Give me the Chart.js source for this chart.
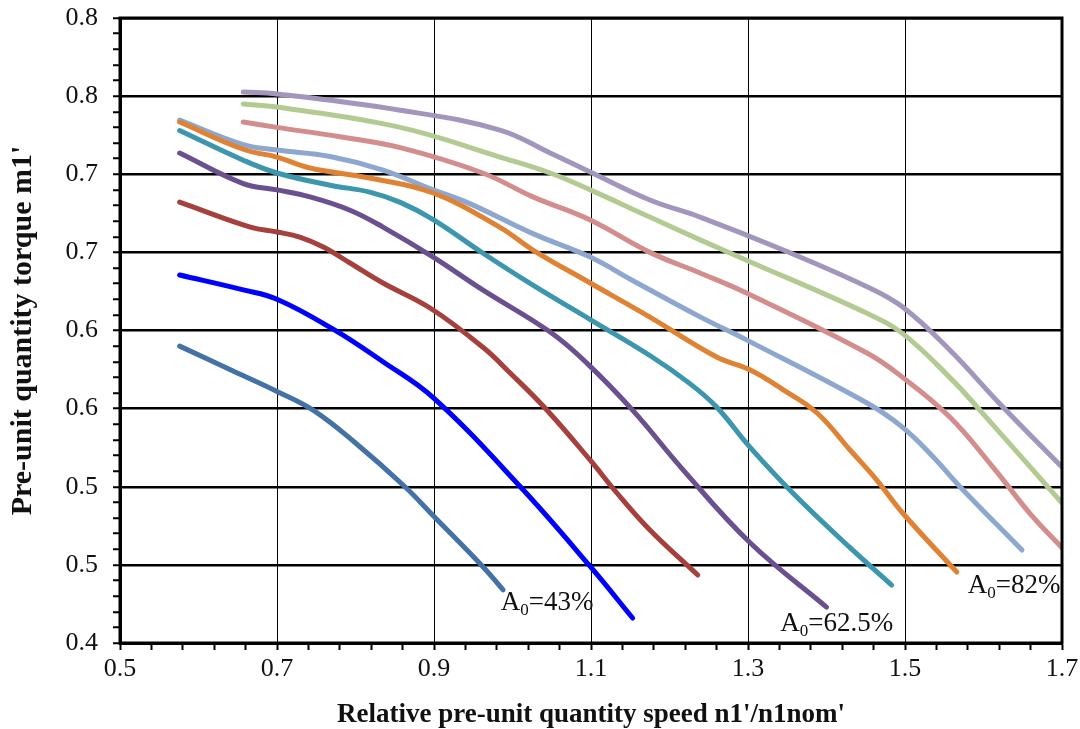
<!DOCTYPE html>
<html>
<head>
<meta charset="utf-8">
<title>Pre-unit quantity torque</title>
<script src="https://cdn.jsdelivr.net/npm/chart.js@4.4.1/dist/chart.umd.min.js"></script>
<style>
    html, body { margin: 0; padding: 0; background: #ffffff; }
    canvas { display: block; }
</style>
</head>
<body>
<canvas id="chart" width="1080" height="729"></canvas>
<script>
// values, one pair of arrays per curve
var curve1Speed = [0.576, 0.64, 0.70, 0.746, 0.80, 0.863, 0.90, 0.962, 0.988];
var curve1Torque = [0.590, 0.575, 0.561, 0.549, 0.528, 0.500, 0.481, 0.449, 0.434];

var curve2Speed = [0.576, 0.657, 0.70, 0.771, 0.835, 0.899, 1.01, 1.099, 1.153];
var curve2Torque = [0.6355, 0.626, 0.620, 0.601, 0.580, 0.557, 0.500, 0.449, 0.416];

var curve3Speed = [0.576, 0.666, 0.70, 0.729, 0.759, 0.793, 0.835, 0.895, 0.962, 0.997, 1.044, 1.099, 1.133, 1.175, 1.236];
var curve3Torque = [0.6822, 0.6662, 0.663, 0.6598, 0.6534, 0.6432, 0.6304, 0.6144, 0.5894, 0.5728, 0.549, 0.517, 0.496, 0.4723, 0.4435];

var curve4Speed = [0.576, 0.657, 0.70, 0.742, 0.793, 0.835, 0.899, 0.962, 1.048, 1.095, 1.153, 1.217, 1.303, 1.40];
var curve4Torque = [0.7136, 0.694, 0.690, 0.6855, 0.677, 0.6662, 0.647, 0.626, 0.599, 0.579, 0.549, 0.511, 0.464, 0.423];

var curve5Speed = [0.576, 0.657, 0.70, 0.7675, 0.818, 0.857, 0.899, 0.962, 1.026, 1.099, 1.175, 1.226, 1.26, 1.303, 1.357, 1.43, 1.483];
var curve5Torque = [0.728, 0.709, 0.7008, 0.693, 0.6886, 0.682, 0.671, 0.6496, 0.629, 0.607, 0.584, 0.566, 0.551, 0.525, 0.496, 0.461, 0.437];

var curve6Speed = [0.576, 0.657, 0.70, 0.742, 0.818, 0.899, 0.984, 1.026, 1.099, 1.175, 1.26, 1.303, 1.345, 1.388, 1.43, 1.464, 1.497, 1.566];
var curve6Torque = [0.7334, 0.716, 0.711, 0.704, 0.6976, 0.688, 0.666, 0.6515, 0.6304, 0.6086, 0.583, 0.5747, 0.562, 0.5472, 0.5235, 0.5043, 0.4832, 0.4454];

var curve7Speed = [0.576, 0.657, 0.70, 0.7675, 0.835, 0.899, 0.942, 1.026, 1.099, 1.153, 1.239, 1.298, 1.4516, 1.497, 1.536, 1.57, 1.649];
var curve7Torque = [0.7347, 0.719, 0.7155, 0.7114, 0.7027, 0.690, 0.682, 0.662, 0.647, 0.632, 0.6087, 0.594, 0.5536, 0.538, 0.519, 0.500, 0.4595];

var curve8Speed = [0.657, 0.70, 0.78, 0.857, 0.962, 1.026, 1.099, 1.175, 1.239, 1.298, 1.4516, 1.497, 1.557, 1.612, 1.659, 1.70];
var curve8Torque = [0.7334, 0.730, 0.724, 0.717, 0.7008, 0.6855, 0.6707, 0.650, 0.6368, 0.624, 0.5856, 0.570, 0.5446, 0.5126, 0.483, 0.461];

var curve9Speed = [0.657, 0.70, 0.857, 0.984, 1.048, 1.099, 1.175, 1.239, 1.298, 1.4516, 1.497, 1.557, 1.599, 1.70];
var curve9Torque = [0.745, 0.743, 0.730, 0.711, 0.7008, 0.690, 0.6726, 0.658, 0.645, 0.611, 0.598, 0.570, 0.547, 0.4896];

var curve10Speed = [0.657, 0.70, 0.857, 0.984, 1.048, 1.099, 1.175, 1.239, 1.345, 1.4516, 1.497, 1.557, 1.621, 1.70];
var curve10Torque = [0.7526, 0.7514, 0.741, 0.7283, 0.7136, 0.7014, 0.6835, 0.6726, 0.6515, 0.628, 0.615, 0.5875, 0.553, 0.5126];

// tick labels as printed on the original (rounded to one decimal)
var xTickLabels = ['0.5', '0.7', '0.9', '1.1', '1.3', '1.5', '1.7'];
var yTickLabels = ['0.4', '0.5', '0.5', '0.6', '0.6', '0.7', '0.7', '0.8', '0.8'];

// the A0 notes next to three of the curves
var noteValues = ['43%', '62.5%', '82%'];
var noteSpeed = [0.985, 1.341, 1.580];
var noteTorque = [0.421, 0.408, 0.432];

var curveColors = ['#4471a6', '#0000ff', '#a6403c', '#6b5090', '#3c97ae', '#e08233', '#8da7ce', '#d28d8c', '#b3cb92', '#a396bd'];
var curveSpeeds = [curve1Speed, curve2Speed, curve3Speed, curve4Speed, curve5Speed, curve6Speed, curve7Speed, curve8Speed, curve9Speed, curve10Speed];
var curveTorques = [curve1Torque, curve2Torque, curve3Torque, curve4Torque, curve5Torque, curve6Torque, curve7Torque, curve8Torque, curve9Torque, curve10Torque];

var fontFamily = '"Liberation Serif", "Times New Roman", serif';

function toPoints(speed, torque) {
    return speed.map(function (x, i) {
        return {x: x, y: torque[i]};
    });
}

var datasets = curveSpeeds.map(function (speed, i) {
    return {
        data: toPoints(speed, curveTorques[i]),
        borderColor: curveColors[i],
        borderWidth: 5,
        borderCapStyle: 'round',
        borderJoinStyle: 'round',
        tension: 0.4,
        pointRadius: 0,
        fill: false
    };
});

function isMajorX(value) {
    return Math.round((value - 0.5) / 0.04) % 5 === 0;
}

function isMajorY(value) {
    return Math.round((value - 0.4) / 0.01) % 5 === 0;
}

// frame on top and right, the scales only draw left and bottom
var framePlugin = {
    id: 'frame',
    afterDatasetsDraw: function (chart) {
        var area = chart.chartArea;
        var ctx = chart.ctx;
        ctx.save();
        ctx.strokeStyle = '#000000';
        ctx.lineWidth = 3;
        ctx.strokeRect(area.left, area.top, area.right - area.left, area.bottom - area.top);
        ctx.restore();
    }
};

// "A0=.." notes with a subscript zero
var notesPlugin = {
    id: 'notes',
    afterDatasetsDraw: function (chart) {
        var ctx = chart.ctx;
        var xScale = chart.scales.x;
        var yScale = chart.scales.y;
        ctx.save();
        ctx.fillStyle = '#111111';
        ctx.textBaseline = 'alphabetic';
        ctx.textAlign = 'left';
        noteValues.forEach(function (text, i) {
            var x = xScale.getPixelForValue(noteSpeed[i]);
            var y = yScale.getPixelForValue(noteTorque[i]);
            ctx.font = '27px ' + fontFamily;
            ctx.fillText('A', x, y);
            x += ctx.measureText('A').width;
            ctx.font = '17px ' + fontFamily;
            ctx.fillText('0', x, y + 5);
            x += ctx.measureText('0').width;
            ctx.font = '27px ' + fontFamily;
            ctx.fillText('=' + text, x, y);
        });
        ctx.restore();
    }
};

var chart = new Chart(document.getElementById('chart').getContext('2d'), {
    type: 'line',
    data: {datasets: datasets},
    plugins: [framePlugin, notesPlugin],
    options: {
        responsive: false,
        animation: false,
        devicePixelRatio: 1,
        layout: {
            padding: {top: 18, right: 18, left: 0, bottom: 0}
        },
        plugins: {
            legend: {display: false},
            tooltip: {enabled: false}
        },
        scales: {
            x: {
                type: 'linear',
                min: 0.5,
                max: 1.7,
                afterFit: function (scale) {
                    scale.height = 86;
                    scale.paddingLeft = 0;
                    scale.paddingRight = 0;
                },
                border: {display: true, color: '#000000', width: 3},
                grid: {
                    color: function (ctx) {
                        return ctx.tick && isMajorX(ctx.tick.value) ? '#000000' : 'rgba(0,0,0,0)';
                    },
                    lineWidth: 1,
                    tickColor: '#000000',
                    tickWidth: 2,
                    tickLength: 7
                },
                ticks: {
                    stepSize: 0.04,
                    autoSkip: false,
                    maxRotation: 0,
                    padding: 4,
                    color: '#111111',
                    font: {family: fontFamily, size: 26},
                    callback: function (value) {
                        var idx = Math.round((value - 0.5) / 0.04);
                        return idx % 5 === 0 ? xTickLabels[idx / 5] : '';
                    }
                },
                title: {
                    display: true,
                    text: "Relative pre-unit quantity speed n1'/n1nom'",
                    color: '#111111',
                    font: {family: fontFamily, size: 27, weight: 'bold', lineHeight: 1},
                    padding: {top: 0, bottom: 0}
                }
            },
            y: {
                type: 'linear',
                min: 0.4,
                max: 0.8,
                afterFit: function (scale) {
                    scale.width = 120;
                    scale.paddingTop = 0;
                    scale.paddingBottom = 0;
                },
                border: {display: true, color: '#000000', width: 3},
                grid: {
                    color: function (ctx) {
                        return ctx.tick && isMajorY(ctx.tick.value) ? '#000000' : 'rgba(0,0,0,0)';
                    },
                    lineWidth: 2.5,
                    tickColor: '#000000',
                    tickWidth: 2,
                    tickLength: 7
                },
                ticks: {
                    stepSize: 0.01,
                    autoSkip: false,
                    padding: 15,
                    color: '#111111',
                    font: {family: fontFamily, size: 26},
                    callback: function (value) {
                        var idx = Math.round((value - 0.4) / 0.01);
                        return idx % 5 === 0 ? yTickLabels[idx / 5] : '';
                    }
                },
                title: {
                    display: true,
                    text: "Pre-unit quantity torque m1'",
                    color: '#111111',
                    font: {family: fontFamily, size: 30, weight: 'bold', lineHeight: 1},
                    padding: {top: 8, bottom: 0}
                }
            }
        }
    }
});
</script>
</body>
</html>
